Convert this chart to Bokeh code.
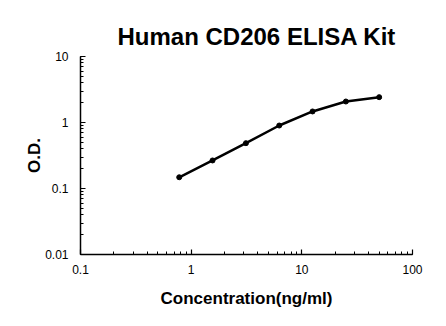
from bokeh.plotting import figure
from bokeh.models import Range1d, LogTicker, CustomJSTickFormatter
from bokeh.embed import file_html
from bokeh.resources import INLINE

# Standard curve: concentration (ng/ml) vs optical density
concentration = [0.78, 1.56, 3.125, 6.25, 12.5, 25, 50]
od = [0.148, 0.266, 0.486, 0.90, 1.47, 2.08, 2.42]

FONT = "Liberation Sans"

p = figure(width=446, height=326, x_axis_type="log", y_axis_type="log",
           x_range=Range1d(0.1, 100), y_range=Range1d(0.01, 10),
           output_backend="svg", toolbar_location=None,
           min_border_left=80, min_border_right=34,
           min_border_top=56, min_border_bottom=72)

p.title.text = "Human CD206 ELISA Kit"
p.title.text_font = FONT
p.title.text_font_size = "24px"
p.title.text_font_style = "bold"
p.title.text_color = "black"
p.title.align = "left"
p.title.offset = 37
p.title.standoff = 13

p.grid.visible = False
p.outline_line_color = None
p.background_fill_color = "white"
p.border_fill_color = "white"

plain = CustomJSTickFormatter(code="return String(Number(tick.toPrecision(6)));")

for ax in (p.xaxis, p.yaxis):
    ax.ticker = LogTicker(desired_num_ticks=4, num_minor_ticks=10)
    ax.formatter = plain
    ax.axis_line_width = 1.5
    ax.axis_line_color = "black"
    ax.major_tick_in = 5
    ax.major_tick_out = 0
    ax.minor_tick_in = 3
    ax.minor_tick_out = 0
    ax.major_tick_line_width = 1.2
    ax.minor_tick_line_width = 1
    ax.major_label_text_font = FONT
    ax.major_label_text_font_size = "12px"
    ax.major_label_text_color = "black"
    ax.axis_label_text_font = FONT
    ax.axis_label_text_font_size = "17px"
    ax.axis_label_text_font_style = "bold"
    ax.axis_label_text_color = "black"

p.xaxis.axis_label = "Concentration(ng/ml)"
p.yaxis.axis_label = "O.D."
p.xaxis.major_label_standoff = 10
p.yaxis.major_label_standoff = 12
p.xaxis.axis_label_standoff = 12
p.yaxis.axis_label_standoff = -2

p.line(concentration, od, line_color="black", line_width=2.5)
p.scatter(concentration, od, size=5, color="black")

open("out.html", "w").write(file_html(p, INLINE))
